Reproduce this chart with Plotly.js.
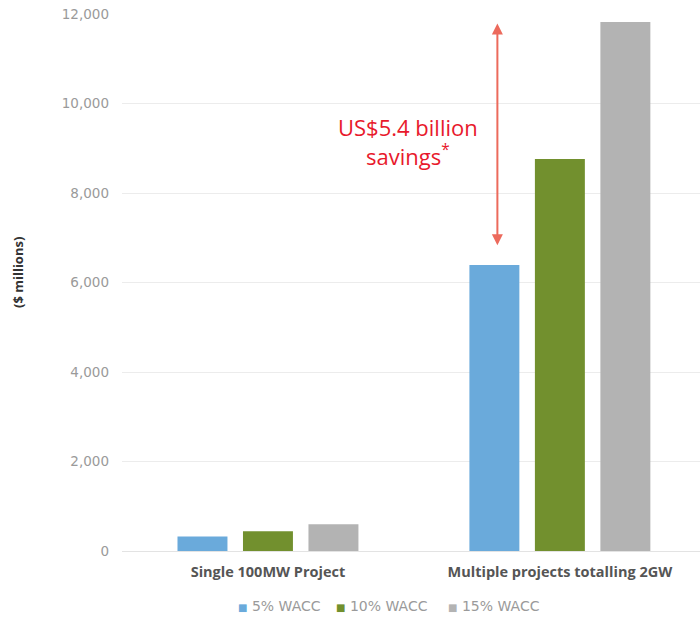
<!DOCTYPE html>
<html>
<head>
<meta charset="utf-8">
<script src="https://cdn.plot.ly/plotly-3.0.1.min.js"></script>
<style>html,body{margin:0;padding:0;background:#fff;}#chart{width:700px;height:621px;}</style>
</head>
<body>
<div id="chart"></div>
<script>
const categories = ["Single 100MW Project", "Multiple projects totalling 2GW"];
const seriesNames = ["5% WACC", "10% WACC", "15% WACC"];
const wacc5 = [325, 6390];
const wacc10 = [440, 8760];
const wacc15 = [595, 11820];
const colors = ["#6aaadb", "#72902e", "#b3b3b3"];
const yTicks = [0, 2000, 4000, 6000, 8000, 10000, 12000];
const savingsLabel = 'US$5.4 billion<br>savings<sup style="font-size:12px">*</sup>';

const values = [wacc5, wacc10, wacc15];
const traces = values.map((v, i) => ({
  type: "bar",
  x: categories,
  y: v,
  name: seriesNames[i],
  showlegend: false,
  marker: {color: colors[i]},
  hoverinfo: "skip"
}));

const bargap = 0.327, bargroupgap = 0.237;
const groupW = 1 - bargap;
const slot = groupW / 3;
const blueOffset = -groupW / 2 + slot / 2;

const plotL = 122, plotW = 578;
const legendX = [236, 334, 446]; // left edge of each legend key, px
const legendAnnots = seriesNames.map((n, i) => ({
  xref: "paper", yref: "paper", x: (legendX[i] - plotL) / plotW, y: -0.102,
  xanchor: "left", yanchor: "middle", showarrow: false,
  text: '<span style="color:' + colors[i] + ';font-size:10px">■</span> ' + n,
  font: {family: "'DejaVu Sans', sans-serif", size: 14, color: "#9a9a9a"}
}));

const layout = {
  width: 700, height: 621,
  margin: {l: plotL, r: 0, t: 14, b: 70},
  paper_bgcolor: "#fff", plot_bgcolor: "#fff",
  barmode: "group",
  bargap: bargap, bargroupgap: bargroupgap,
  showlegend: false,
  xaxis: {
    type: "category",
    range: [-0.5, 1.48],
    showgrid: false, zeroline: false,
    showline: true, linecolor: "#e3e3e3", linewidth: 1,
    ticks: "", ticklabelstandoff: 8,
    tickfont: {family: "'Open Sans', sans-serif", size: 14.5, color: "#555", weight: "bold"},
    fixedrange: true
  },
  yaxis: {
    range: [0, 12000],
    tickvals: yTicks,
    tickformat: ",",
    showgrid: true, gridcolor: "#ececec", gridwidth: 1,
    zeroline: false, showline: false,
    ticks: "", ticklabelstandoff: 12,
    tickfont: {family: "'DejaVu Sans', sans-serif", size: 13.5, color: "#9a9a9a"},
    fixedrange: true
  },
  annotations: [
    {
      xref: "paper", yref: "paper", x: -104 / plotW, y: (551 - 273) / 537,
      text: "<b>($ millions)</b>", textangle: -90, showarrow: false,
      xanchor: "center", yanchor: "middle",
      font: {family: "'Open Sans', sans-serif", size: 13, color: "#333"}
    },
    {
      xref: "x", yref: "y", x: 1 + blueOffset, y: wacc5[1] + 440,
      ax: 1 + blueOffset, ay: wacc15[1], axref: "x", ayref: "y",
      text: "", showarrow: true, arrowside: "end+start",
      arrowhead: 2, startarrowhead: 2, arrowsize: 1.1, startarrowsize: 1.1,
      arrowwidth: 2, arrowcolor: "#ec6a5c", xshift: 3
    },
    {
      xref: "paper", yref: "y", x: (408 - plotL) / plotW, y: 10000,
      text: savingsLabel, showarrow: false, xanchor: "center", yanchor: "top", align: "center",
      font: {family: "'Open Sans', sans-serif", size: 22, color: "#e8192c"},
      yshift: -6
    }
  ].concat(legendAnnots)
};

Plotly.newPlot("chart", traces, layout, {displayModeBar: false, staticPlot: true});
</script>
</body>
</html>
